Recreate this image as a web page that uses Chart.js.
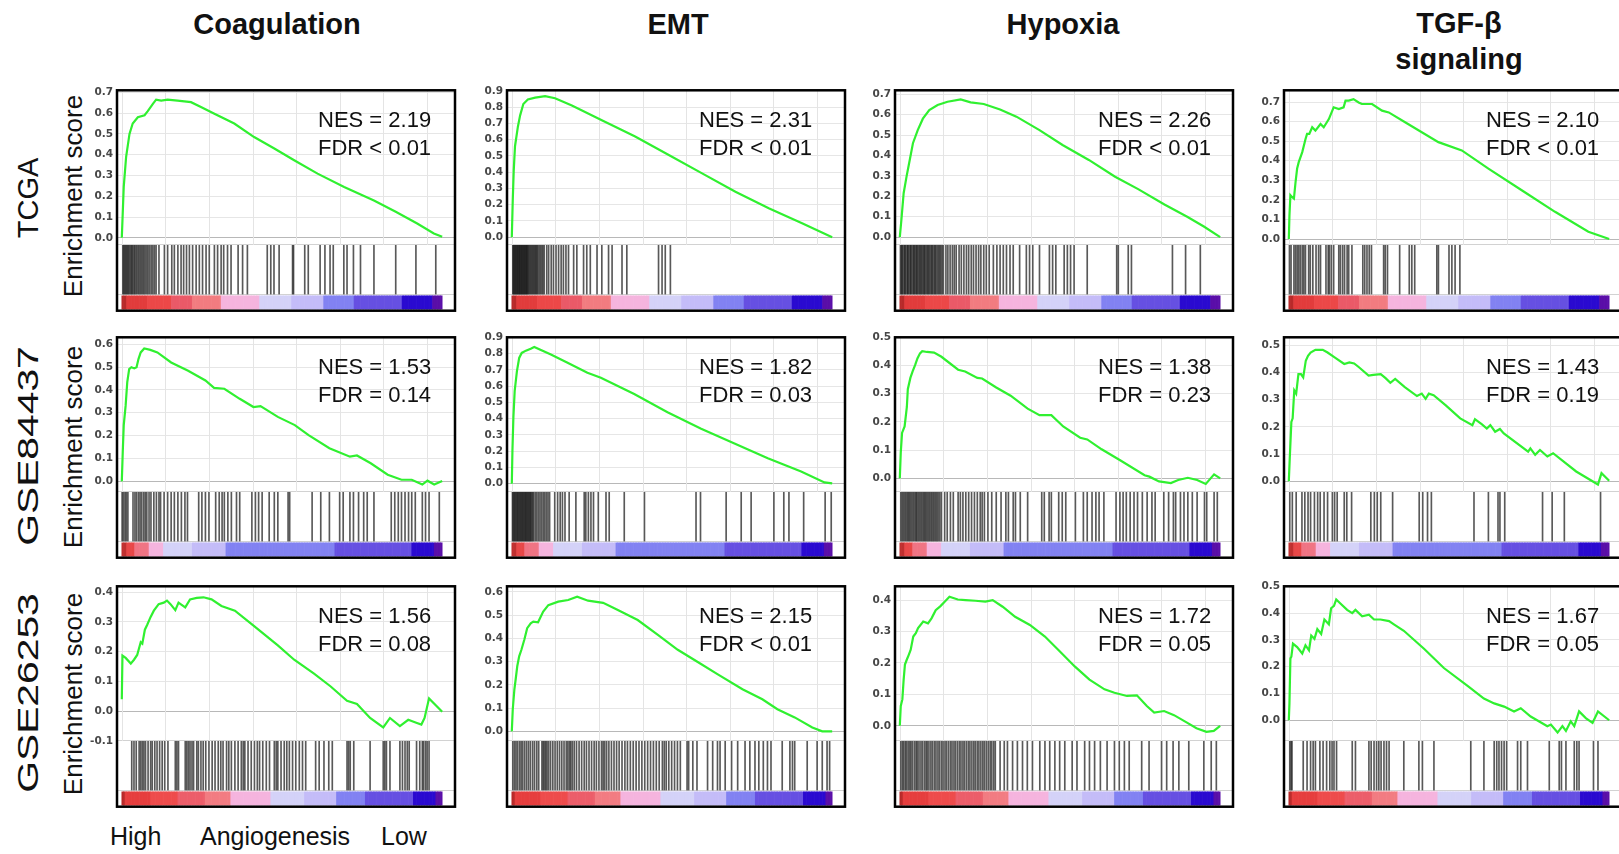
<!DOCTYPE html>
<html>
<head>
<meta charset="utf-8">
<script src="https://cdn.jsdelivr.net/npm/chart.js@4.4.1/dist/chart.umd.min.js"></script>
<style>
  body { margin: 0; width: 1619px; height: 854px; overflow: hidden; position: relative; background: #fff;
         font-family: "Liberation Sans", Arial, sans-serif; color: #111; }
  canvas { position: absolute; }
  .txt { position: absolute; white-space: pre-line; transform: translate(-50%, -50%); text-align: center; }
  .rot { position: absolute; white-space: nowrap; transform: translate(-50%, -50%) rotate(-90deg); }
  .nes { position: absolute; white-space: nowrap; font-size: 22px; line-height: 28px; }
</style>
</head>
<body>
<script>
// ---- data ----
const geneSets = ['Coagulation', 'EMT', 'Hypoxia', 'TGF-β\nsignaling'];
const cohorts = ['TCGA', 'GSE84437', 'GSE26253'];
const nes = [[2.19, 2.31, 2.26, 2.10], [1.53, 1.82, 1.38, 1.43], [1.56, 2.15, 1.72, 1.67]];
const fdr = [['< 0.01', '< 0.01', '< 0.01', '< 0.01'], ['= 0.14', '= 0.03', '= 0.23', '= 0.19'], ['= 0.08', '< 0.01', '= 0.05', '= 0.05']];
const rankLabels = ['High', 'Angiogenesis', 'Low'];

// y axis limits of the enrichment score part [min, max]
const esLimits = [
  [[-0.034, 0.71], [-0.047, 0.904], [-0.038, 0.719], [-0.03, 0.76]],
  [[-0.046, 0.63], [-0.05, 0.9], [-0.048, 0.5], [-0.039, 0.529]],
  [[-0.1, 0.42], [-0.041, 0.624], [-0.048, 0.444], [-0.077, 0.5]]
];
// vertical grid positions (rank %)
const gridX = [0, 13.6, 27.2, 40.8, 54.4, 68, 81.6, 95.2];

// running enrichment score, [rank %, ES]
const esCoagTCGA = [[0,0],[0.6,0.245],[1.35,0.39],[2.4,0.5],[3.4,0.55],[5,0.58],[7.1,0.59],[8.1,0.61],[9.7,0.645],[10.7,0.665],[12.3,0.66],[14.3,0.665],[17.4,0.66],[21.6,0.653],[24.7,0.63],[28.9,0.597],[35.1,0.55],[41.3,0.485],[47.6,0.43],[53.8,0.373],[61.1,0.309],[69.4,0.245],[78.7,0.18],[85.5,0.125],[92.2,0.069],[97.4,0.021],[100,0.005]];
const esEmtTCGA = [[0,0],[0.3,0.23],[0.6,0.41],[1,0.56],[1.9,0.68],[2.6,0.75],[3.6,0.82],[5,0.848],[7.3,0.859],[10.4,0.868],[13.5,0.855],[18.75,0.81],[28.1,0.72],[38.5,0.62],[49,0.506],[59.4,0.393],[69.8,0.28],[80.2,0.178],[90.6,0.086],[100,0]];
const esHypTCGA = [[0,0],[0.5,0.085],[1.2,0.215],[2.1,0.296],[3.1,0.378],[4.1,0.46],[5.6,0.524],[7.2,0.58],[9.2,0.622],[11.8,0.647],[14.9,0.663],[19,0.674],[22.1,0.66],[26.2,0.652],[31.3,0.625],[36.4,0.59],[43.6,0.524],[50.8,0.451],[59,0.378],[67.2,0.296],[74.4,0.235],[82.6,0.16],[89.7,0.1],[94.9,0.052],[100,0]];
const esTgfTCGA = [[0,0],[0.2,0.12],[0.5,0.224],[1,0.215],[1.6,0.207],[2.1,0.29],[2.6,0.36],[3.1,0.393],[4.2,0.444],[5.2,0.51],[5.7,0.537],[6.4,0.537],[7.3,0.571],[8.3,0.554],[9.9,0.588],[10.9,0.571],[12.5,0.613],[14,0.673],[15.6,0.664],[17.1,0.673],[17.7,0.707],[18.7,0.707],[20.2,0.715],[21.8,0.698],[22.8,0.69],[26,0.69],[29.1,0.656],[31.2,0.647],[36.3,0.597],[46.7,0.495],[54,0.453],[62.3,0.36],[72.7,0.249],[83.1,0.139],[93.5,0.037],[100,0]];

const esCoag84437 = [[0,0],[0.3,0.13],[0.6,0.245],[1.2,0.332],[1.7,0.434],[2.3,0.491],[3,0.499],[3.9,0.494],[4.6,0.499],[5.2,0.535],[5.9,0.564],[7,0.581],[8.9,0.575],[11.1,0.564],[15.4,0.52],[20.7,0.484],[26.1,0.441],[28.8,0.409],[32,0.405],[36.8,0.361],[41.1,0.325],[43.3,0.329],[48.7,0.282],[54,0.246],[58.3,0.202],[64.8,0.145],[71.2,0.108],[73.4,0.113],[77.7,0.079],[83,0.029],[87.3,0.007],[90.5,0.007],[93.8,-0.014],[95.4,0.003],[97.5,-0.014],[100,0.002]];
const esEmt84437 = [[0,0],[0.2,0.206],[0.5,0.41],[0.9,0.571],[1.6,0.692],[2.3,0.773],[3.1,0.804],[4.4,0.818],[5.9,0.83],[7,0.84],[12.2,0.794],[17.4,0.743],[23.6,0.682],[27.8,0.652],[38.2,0.551],[48.6,0.439],[59.1,0.338],[69.5,0.247],[79.9,0.156],[90.3,0.075],[97.6,0.008],[100,0.002]];
const esHyp84437 = [[0,0],[0.3,0.092],[0.7,0.161],[1.5,0.184],[2.2,0.253],[2.5,0.316],[3.3,0.356],[4,0.379],[4.8,0.402],[5.5,0.425],[6.3,0.443],[7,0.451],[8.5,0.448],[10.7,0.446],[13,0.431],[18.2,0.385],[20.4,0.379],[24.2,0.356],[25.7,0.354],[30.1,0.322],[34.6,0.293],[39.9,0.247],[43.6,0.224],[47.3,0.224],[51,0.184],[56.3,0.144],[58.5,0.138],[63,0.103],[68.9,0.063],[76.4,0.011],[77.9,0.006],[80.9,-0.011],[84.6,-0.017],[86.9,-0.006],[89.9,0.002],[92.8,-0.006],[95.5,-0.02],[98.1,0.014],[100,0]];
const esTgf84437 = [[0,0],[0.3,0.085],[0.8,0.218],[1.2,0.231],[1.7,0.334],[2.3,0.322],[3,0.394],[3.8,0.394],[4.5,0.382],[5.3,0.443],[6,0.461],[6.8,0.473],[8.3,0.483],[10.6,0.483],[12.1,0.473],[14.3,0.455],[17.3,0.431],[18.9,0.437],[20.4,0.433],[21.9,0.419],[24.9,0.388],[26.4,0.391],[28.7,0.394],[30.2,0.379],[31.7,0.362],[33.2,0.376],[36.2,0.346],[40,0.313],[41.5,0.322],[42.7,0.303],[43.7,0.322],[45.2,0.316],[49,0.279],[53.5,0.231],[57.3,0.206],[58.1,0.228],[60.3,0.209],[61.8,0.194],[62.9,0.206],[64.4,0.182],[65.9,0.192],[67.1,0.176],[74.7,0.109],[75.4,0.121],[76.9,0.097],[78.4,0.115],[80.7,0.091],[82.5,0.103],[89.7,0.036],[96.5,-0.012],[97.6,0.03],[100,0.002]];

const esCoag26253 = [[0,0.04],[0.2,0.187],[1.2,0.179],[2.8,0.16],[3.8,0.173],[4.8,0.189],[5.9,0.232],[6.4,0.227],[7.2,0.274],[7.9,0.29],[9,0.317],[10,0.338],[11.5,0.36],[13.1,0.365],[14.1,0.372],[15.2,0.36],[16.7,0.34],[17.7,0.365],[19.8,0.349],[21.3,0.376],[23.4,0.381],[25.5,0.383],[28,0.376],[31.1,0.354],[35.3,0.338],[41.4,0.285],[48.7,0.221],[53.8,0.173],[60,0.126],[65.2,0.083],[70.3,0.035],[73.4,0.024],[77.5,-0.023],[81.6,-0.055],[83.7,-0.023],[86.8,-0.05],[89.4,-0.029],[91.9,-0.039],[93.5,-0.045],[94.5,-0.023],[95.9,0.043],[100,-0.002]];
const esEmt26253 = [[0,0],[0.3,0.095],[0.8,0.18],[1.2,0.223],[1.7,0.28],[2.3,0.323],[3,0.351],[3.9,0.394],[4.8,0.444],[5.9,0.465],[6.7,0.472],[8.2,0.469],[9.8,0.515],[11.4,0.543],[14.5,0.558],[17.6,0.565],[20.4,0.579],[23.8,0.562],[28.5,0.553],[33.1,0.522],[39.3,0.479],[45.6,0.415],[51.8,0.351],[58.8,0.292],[64.3,0.245],[72,0.181],[78.2,0.138],[82.9,0.095],[88.3,0.06],[93.8,0.017],[96.9,0],[100,0]];
const esHyp26253 = [[0,0],[0.3,0.063],[0.8,0.084],[1.2,0.147],[1.6,0.195],[2.2,0.211],[2.8,0.226],[3.4,0.242],[4.2,0.284],[5,0.295],[5.7,0.311],[7.3,0.332],[8.8,0.326],[9.9,0.342],[11.2,0.368],[12.7,0.381],[14,0.395],[15.5,0.411],[18.1,0.402],[20.5,0.4],[23.6,0.398],[26.7,0.395],[29,0.4],[32.1,0.379],[36,0.347],[40.6,0.321],[45.3,0.284],[49.9,0.237],[54.6,0.189],[59.2,0.147],[63.9,0.116],[67,0.105],[70.9,0.095],[74,0.097],[77.1,0.063],[79.4,0.042],[82.5,0.047],[85.6,0.034],[89.5,0.011],[92.6,-0.008],[95.7,-0.019],[98,-0.016],[100,0]];
const esTgf26253 = [[0,0],[0.2,0.063],[0.5,0.231],[0.8,0.237],[1.3,0.286],[2.6,0.273],[4.2,0.249],[5.2,0.28],[6.3,0.261],[7,0.316],[8,0.304],[8.9,0.34],[10.1,0.322],[11.1,0.376],[12.5,0.358],[13.2,0.418],[14.1,0.427],[14.8,0.451],[16.1,0.436],[18.2,0.412],[19.8,0.4],[20.8,0.412],[22.9,0.388],[25,0.394],[26.6,0.376],[28.6,0.376],[31.3,0.37],[32.8,0.358],[35.9,0.334],[42.2,0.267],[48.4,0.195],[55.7,0.129],[60.9,0.081],[64.1,0.063],[67.2,0.051],[70.3,0.033],[72.4,0.045],[75.5,0.014],[80.7,-0.022],[81.8,-0.016],[83.9,-0.046],[85.4,-0.022],[86.5,-0.04],[88,-0.004],[89.1,-0.022],[90.6,0.033],[92.7,0.008],[94.8,-0.01],[96.5,0.033],[100,0]];

// gene set hits, rank %
const hitsCoagTCGA = [0.3,0.6,0.9,1.2,1.5,1.8,2.1,2.4,2.8,3.1,3.4,3.8,4.1,4.5,4.9,5.3,5.7,6.1,6.5,6.9,7.3,7.8,8.2,8.7,9.2,9.7,10.2,10.7,11.6,13.3,14.3,15.6,16.4,17.5,18.5,19.3,20.2,21.1,22.1,23.2,24.2,25.2,26.3,27.3,28.9,29.9,31.0,31.8,33.0,34.1,36.3,37.7,39.2,45.4,46.5,47.5,49.1,53.3,53.6,57.1,58.2,61.9,63.4,65.0,66.0,69.3,70.3,72.3,74.5,78.7,85.5,91.8,98.0];
const hitsEmtTCGA = [0.3,0.5,0.7,0.9,1.1,1.3,1.5,1.7,1.9,2.1,2.3,2.5,2.7,2.9,3.1,3.3,3.5,3.7,3.9,4.1,4.3,4.5,4.7,4.9,5.1,5.4,5.7,6.0,6.3,6.6,6.9,7.2,7.5,7.8,8.1,8.5,8.9,9.3,9.7,10.1,10.9,11.5,12.3,13.0,13.8,14.6,15.4,16.1,16.9,17.7,19.3,20.3,22.4,23.4,24.5,26.6,28.1,30.2,31.3,34.4,35.9,45.8,46.9,47.9,49.5];
const hitsHypTCGA = [0.2,0.5,0.7,1.0,1.4,1.6,1.9,2.3,2.5,2.8,3.2,3.4,3.7,4.1,4.4,4.6,5.0,5.3,5.5,5.9,6.2,6.5,6.8,7.1,7.5,7.7,8.0,8.4,8.7,9.0,9.3,9.7,10.0,10.3,10.7,11.0,11.3,11.7,12.1,12.4,12.8,13.2,13.6,14.4,15.0,15.7,16.4,17.0,17.6,18.5,19.2,20.0,20.8,21.5,22.3,23.0,23.8,24.6,25.3,26.2,27.0,27.9,29.2,30.3,31.3,32.3,33.3,34.4,35.4,37.4,39.5,40.5,41.5,43.6,46.7,47.7,48.7,51.3,52.3,53.3,54.4,58.5,67.7,68.2,71.3,72.3,85.1,89.2,93.8];
const hitsTgfTCGA = [0.2,0.7,1.6,2.1,2.6,3.1,3.6,4.2,4.7,5.2,6.2,6.7,7.5,8.5,9.3,9.9,11.6,12.3,12.7,13.3,14.0,15.6,16.1,16.8,17.4,18.2,18.7,19.7,23.1,23.7,24.4,25.1,25.8,29.6,30.1,30.8,34.6,37.6,38.4,39.3,46.2,46.7,50.0,50.9,51.9,53.4];

const hitsCoag84437 = [0.1,0.5,1.0,1.4,1.9,3.5,4.1,4.6,5.2,5.7,6.2,6.8,7.3,7.8,8.5,9.1,10.0,10.8,11.6,12.1,13.2,14.3,15.4,16.4,17.5,18.6,19.7,20.5,24.0,25.0,26.1,27.2,29.3,30.4,31.3,32.0,33.1,34.2,35.8,36.8,40.6,41.7,42.7,43.8,46.0,47.6,48.7,51.9,52.4,59.4,62.1,64.8,68.0,69.1,71.2,72.3,73.9,75.5,76.6,78.7,84.1,85.2,86.3,87.3,88.4,89.5,90.5,91.6,93.8,94.8,95.9,99.1];
const hitsEmt84437 = [0.2,0.4,0.7,0.9,1.2,1.4,1.7,1.9,2.2,2.4,2.7,2.9,3.2,3.4,3.7,3.9,4.2,4.4,4.7,4.9,5.2,5.4,5.7,5.9,6.2,6.5,6.8,7.3,7.8,8.3,8.8,9.3,9.8,10.3,10.8,11.3,11.8,13.4,14.3,15.1,15.8,16.6,17.9,20.0,22.6,23.1,23.9,24.7,25.5,27.0,29.4,30.4,35.1,41.4,57.5,58.9,66.9,71.6,74.7,81.8,84.9,86.5,91.1,97.8,99.7];
const hitsHyp84437 = [0.3,0.7,1.1,1.5,1.9,2.3,2.7,3.0,3.4,3.8,4.2,4.6,5.0,5.3,5.7,6.1,6.5,6.9,7.3,7.7,8.0,8.4,8.8,9.2,9.6,10.0,10.4,10.8,11.2,11.6,12.0,12.5,13.0,14.0,14.8,15.8,16.7,18.2,18.9,19.7,20.6,21.5,22.4,23.3,24.2,25.1,25.7,26.4,27.5,28.7,30.1,31.6,33.1,33.9,35.4,36.1,37.6,39.9,44.3,45.1,46.6,47.3,49.6,50.7,51.8,54.8,57.3,58.5,60.0,61.2,62.2,63.7,67.5,68.7,69.7,70.7,71.9,73.1,74.2,75.7,77.2,78.7,79.7,82.4,83.9,85.4,86.1,87.6,88.7,89.9,91.3,92.8,95.1,95.8,98.1,99.1];
const hitsTgf84437 = [0.3,1.1,2.3,4.1,5.0,6.0,6.8,8.0,9.0,9.8,11.0,12.1,13.6,14.3,15.1,17.3,18.1,19.6,25.6,26.7,27.6,28.7,32.4,40.7,41.8,43.3,44.5,57.8,62.3,65.3,65.9,67.4,79.2,82.2,86.0,97.3];

const hitsCoag26253 = [3.1,3.8,4.5,5.4,5.9,6.4,6.9,7.4,8.2,9.0,9.5,10.3,11.0,11.8,12.6,13.4,14.4,16.7,17.2,17.7,19.8,20.3,20.8,21.3,21.9,22.4,23.4,23.9,24.7,25.4,26.2,27.2,28.2,29.1,30.1,30.9,31.6,32.7,33.4,34.2,35.3,36.3,37.3,37.9,38.4,39.4,40.4,41.4,42.3,43.0,44.0,45.1,46.1,47.6,48.2,48.7,49.7,50.7,51.5,52.3,53.3,54.3,55.4,56.4,57.4,60.5,61.6,63.1,64.6,65.7,70.3,70.8,71.3,72.4,77.5,81.6,82.1,82.6,83.7,86.8,87.6,88.4,89.1,89.7,92.0,93.0,93.8,94.2,94.8,95.3,95.9];
const hitsEmt26253 = [0.3,0.8,1.3,1.8,2.4,2.9,3.4,4.0,4.6,5.2,5.8,6.5,7.1,7.8,8.4,9.4,9.8,10.2,10.6,11.0,11.5,12.1,12.8,13.5,14.2,14.9,15.6,16.3,17.0,17.5,18.0,18.4,18.9,19.5,20.2,21.0,21.8,22.6,23.3,24.1,24.9,25.7,26.4,27.2,28.0,28.5,29.0,29.6,30.3,31.1,31.9,32.7,33.5,34.4,35.3,36.1,37.0,37.9,38.8,39.7,40.6,41.5,42.4,43.3,44.2,45.1,46.0,47.0,47.6,48.2,49.0,49.9,50.8,51.7,52.6,54.7,55.2,56.5,57.8,61.1,62.7,64.2,65.0,66.6,68.6,70.5,72.8,74.3,75.9,77.1,78.5,79.8,80.9,84.4,86.8,87.6,88.3,92.2,95.3,96.9,98.4,99.2];
const hitsHyp26253 = [0.3,0.8,1.2,1.7,2.1,2.6,3.1,3.5,4.0,4.6,5.1,5.5,6.0,6.6,7.1,7.7,8.2,8.6,9.1,9.7,10.2,10.8,11.3,11.9,12.4,13.0,13.5,14.1,14.6,15.2,15.8,16.3,16.9,17.4,18.0,18.6,19.1,19.7,20.2,20.8,21.4,21.9,22.5,23.1,23.6,24.2,24.7,25.3,25.9,26.4,27.0,27.6,28.2,28.7,29.3,29.8,31.3,32.6,33.6,35.2,36.7,38.3,39.8,41.4,43.7,45.3,46.8,48.4,49.9,51.5,53.8,55.3,57.7,59.2,60.8,62.6,64.7,67.0,68.5,70.1,71.6,75.5,77.8,81.7,83.3,85.3,87.1,90.2,94.9,97.2,98.8];
const hitsTgf26253 = [0.3,0.7,1.0,4.5,5.7,6.8,7.6,8.3,9.7,10.7,11.8,12.8,13.5,14.1,14.9,19.8,20.8,25.0,25.7,26.6,27.4,28.1,28.8,29.7,30.5,31.3,35.9,40.6,41.7,45.3,56.8,60.9,64.1,64.9,65.6,66.4,67.2,68.0,71.4,72.4,74.5,81.3,84.4,85.1,86.5,89.1,89.9,90.6,95.1,96.5];

const esCurves = [
  [esCoagTCGA, esEmtTCGA, esHypTCGA, esTgfTCGA],
  [esCoag84437, esEmt84437, esHyp84437, esTgf84437],
  [esCoag26253, esEmt26253, esHyp26253, esTgf26253]
];
const hitSets = [
  [hitsCoagTCGA, hitsEmtTCGA, hitsHypTCGA, hitsTgfTCGA],
  [hitsCoag84437, hitsEmt84437, hitsHyp84437, hitsTgf84437],
  [hitsCoag26253, hitsEmt26253, hitsHyp26253, hitsTgf26253]
];

// ranked list colour bar per cohort: [from %, to %, colour]
const strips = [
  [[0,1.5,'#b82a2a'],[1.5,8,'#e23c3c'],[8,15.4,'#ec4848'],[15.4,22,'#ea5a68'],[22,31,'#f27c80'],[31,43,'#f5b4de'],[43,53,'#d4d2f8'],[53,63,'#c4bcf8'],[63,72.5,'#8282f2'],[72.5,87.5,'#6650e2'],[87.5,97,'#2a0ad0'],[97,100,'#5a0ea8']],
  [[0,1.5,'#c03030'],[1.5,4,'#e84848'],[4,8.4,'#f07484'],[8.4,13.2,'#f5b4de'],[13.2,22,'#d4d2f8'],[22,32.5,'#c4bcf8'],[32.5,66.4,'#8282f2'],[66.4,90.5,'#6650e2'],[90.5,97.5,'#2a0ad0'],[97.5,100,'#5a0ea8']],
  [[0,1,'#b82828'],[1,9,'#e63e3e'],[9,17.7,'#ee4c4c'],[17.7,26,'#ec5e6a'],[26,34.2,'#f27c82'],[34.2,46.6,'#f5b4de'],[46.6,57,'#d4d2f8'],[57,67.2,'#c4bcf8'],[67.2,76,'#8282f2'],[76,91,'#6650e2'],[91,98,'#2a0ad0'],[98,100,'#5a0ea8']]
];

// ---- layout ----
const colLeft = [117, 507, 895, 1284];
const rowTop = [90, 337, 586];
const FW = 338, FH = 221;
const AXW = 42, PADV = 10, PADR = 6;
const titleX = [277, 678, 1063, 1459];
const nesOffset = [201, 192, 203, 202];
const cohortY = [198, 446, 693];
const scoreY = [196, 447, 694];

Chart.defaults.font.family = 'DejaVu Sans';

function addText(cls, text, left, top, css) {
  const d = document.createElement('div');
  d.className = cls;
  d.textContent = text;
  d.style.left = left + 'px';
  d.style.top = top + 'px';
  Object.assign(d.style, css || {});
  document.body.appendChild(d);
  return d;
}

// frame + vertical grid of the ES part
const panelDecor = {
  id: 'panelDecor',
  beforeDatasetsDraw(chart) {
    const { ctx, scales: { x, yES } } = chart;
    ctx.save();
    ctx.strokeStyle = '#e4e4e4';
    ctx.lineWidth = 1;
    gridX.forEach(v => {
      const px = Math.round(x.getPixelForValue(v)) + 0.5;
      ctx.beginPath();
      ctx.moveTo(px, yES.top);
      ctx.lineTo(px, yES.bottom);
      ctx.stroke();
    });
    ctx.restore();
  },
  afterDraw(chart) {
    const { ctx, chartArea: a } = chart;
    ctx.save();
    ctx.strokeStyle = '#000';
    ctx.lineWidth = 2.5;
    ctx.strokeRect(a.left, a.top, a.right - a.left, a.bottom - a.top);
    ctx.restore();
  }
};

function stripCells(segs) {
  const cells = [];
  for (let i = 0; i < 200; i++) {
    const cx = i * 0.5 + 0.25;
    const seg = segs.find(s => cx >= s[0] && cx < s[1]) || segs[segs.length - 1];
    cells.push({ x: cx, color: seg[2] });
  }
  return cells;
}

function makePanel(r, c) {
  const cv = document.createElement('canvas');
  cv.width = AXW + FW + PADR;
  cv.height = FH + 2 * PADV;
  cv.style.left = (colLeft[c] - AXW) + 'px';
  cv.style.top = (rowTop[r] - PADV) + 'px';
  document.body.appendChild(cv);

  const [ymin, ymax] = esLimits[r][c];
  const cells = stripCells(strips[r]);
  const rankScale = { type: 'linear', min: -1.5, max: 104, display: false, offset: false, grid: { offset: false } };

  new Chart(cv, {
    type: 'line',
    data: {
      datasets: [
        {
          type: 'line',
          data: esCurves[r][c].map(p => ({ x: p[0], y: p[1] })),
          xAxisID: 'x', yAxisID: 'yES',
          borderColor: '#30f030', borderWidth: 2.2, pointRadius: 0, tension: 0
        },
        {
          type: 'bar',
          data: hitSets[r][c].map(h => ({ x: h, y: 1 })),
          xAxisID: 'x', yAxisID: 'yHit',
          backgroundColor: 'rgba(25,25,25,0.72)',
          barThickness: 1, grouped: false
        },
        {
          type: 'bar',
          data: cells.map(cl => ({ x: cl.x, y: 1 })),
          xAxisID: 'xc', yAxisID: 'yCol',
          backgroundColor: cells.map(cl => cl.color),
          barPercentage: 1, categoryPercentage: 1, grouped: false
        }
      ]
    },
    options: {
      responsive: false,
      animation: false,
      events: [],
      layout: { padding: { left: 0, top: PADV, right: PADR, bottom: PADV } },
      plugins: { legend: { display: false }, tooltip: { enabled: false } },
      scales: {
        x: Object.assign({}, rankScale),
        xc: Object.assign({}, rankScale, {
          afterBuildTicks: s => {
            const t = [];
            for (let v = 0; v <= 100; v += 0.5) t.push({ value: v });
            s.ticks = t;
          }
        }),
        yES: {
          type: 'linear', position: 'left', stack: 'gsea', stackWeight: 155, weight: 3,
          min: ymin, max: ymax,
          border: { display: false },
          grid: {
            drawTicks: false,
            color: ctx => (ctx.tick && Math.abs(ctx.tick.value) < 1e-9) ? '#b8b8b8' : '#e6e6e6'
          },
          ticks: {
            autoSkip: false, padding: 4, color: '#474747',
            font: { size: 10.5, weight: 'bold' },
            callback: v => v.toFixed(1)
          },
          afterBuildTicks: s => {
            const t = [];
            for (let k = Math.ceil(ymin * 10 - 1e-6); k <= Math.floor(ymax * 10 + 1e-6); k++) t.push({ value: k / 10 });
            s.ticks = t;
          },
          afterFit: s => { s.width = AXW; }
        },
        yHit: {
          type: 'linear', position: 'left', stack: 'gsea', stackWeight: 50, weight: 2,
          min: 0, max: 1,
          border: { display: false },
          grid: { drawTicks: false, color: '#d2d2d2' },
          ticks: { display: false, stepSize: 1 }
        },
        yCol: {
          type: 'linear', position: 'left', stack: 'gsea', stackWeight: 16, weight: 1,
          min: -0.12, max: 1.08, display: false
        }
      }
    },
    plugins: [panelDecor]
  });

  addText('nes', 'NES = ' + nes[r][c].toFixed(2) + '\nFDR ' + fdr[r][c],
    colLeft[c] + nesOffset[c], rowTop[r] + 16, { whiteSpace: 'pre' });
}

// titles
geneSets.forEach((g, c) => {
  const multi = g.indexOf('\n') >= 0;
  addText('txt', g, titleX[c], multi ? 41 : 24,
    { fontSize: '29px', fontWeight: 'bold', lineHeight: '36px' });
});

// row labels
cohorts.forEach((name, r) => {
  const lbl = addText('rot', name, 28, cohortY[r], { fontSize: r === 0 ? '29px' : '30px' });
  if (r > 0) {
    lbl.style.transform = 'translate(-50%, -50%) rotate(-90deg) scaleX(1.36)';
  }
  addText('rot', 'Enrichment score', 73, scoreY[r], { fontSize: '26px' });
  for (let c = 0; c < 4; c++) makePanel(r, c);
});

// rank direction under the first column
const rankX = [110, 200, 381];
rankLabels.forEach((t, i) => {
  addText('nes', t, rankX[i], 822, { fontSize: '25px', lineHeight: '28px' });
});
</script>
</body>
</html>
